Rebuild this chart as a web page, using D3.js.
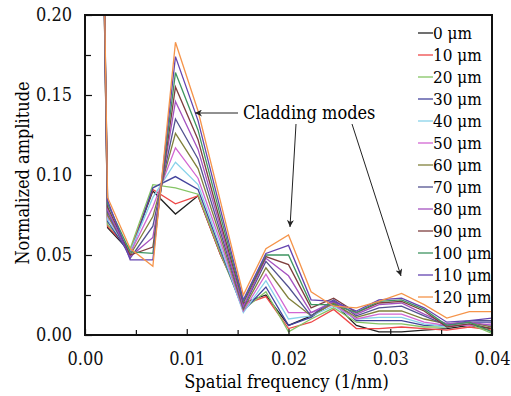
<!DOCTYPE html>
<html>
<head>
<meta charset="utf-8">
<script src="https://cdn.jsdelivr.net/npm/d3@7"></script>
<style>
  body { margin: 0; background: #fff; }
</style>
</head>
<body>
<div id="chart"></div>
<script>
// spatial frequency (1/nm)
const freq = [0, 0.00222, 0.00444, 0.00667, 0.00889, 0.01111, 0.01333, 0.01556, 0.01778, 0.02,
  0.02222, 0.02444, 0.02667, 0.02889, 0.03111, 0.03333, 0.03556, 0.03778, 0.04];

// normalized amplitude, one array per thickness
const um0 = [1.0, 0.067, 0.052, 0.090, 0.0756, 0.087, 0.050, 0.020, 0.025, 0.006, 0.012, 0.020, 0.006, 0.002, 0.002, 0.003, 0.004, 0.006, 0.004];
const um10 = [1.0, 0.068, 0.053, 0.091, 0.082, 0.087, 0.050, 0.019, 0.024, 0.004, 0.008, 0.016, 0.004, 0.004, 0.005, 0.004, 0.003, 0.005, 0.003];
const um20 = [1.0, 0.069, 0.054, 0.094, 0.092, 0.088, 0.051, 0.016, 0.027, 0.002, 0.010, 0.017, 0.008, 0.007, 0.007, 0.005, 0.005, 0.007, 0.001];
const um30 = [1.0, 0.071, 0.050, 0.092, 0.099, 0.091, 0.053, 0.015, 0.030, 0.006, 0.011, 0.021, 0.009, 0.009, 0.009, 0.006, 0.006, 0.008, 0.008];
const um40 = [1.0, 0.072, 0.052, 0.086, 0.108, 0.094, 0.055, 0.014, 0.034, 0.010, 0.012, 0.018, 0.010, 0.011, 0.011, 0.007, 0.005, 0.007, 0.006];
const um50 = [1.0, 0.074, 0.051, 0.080, 0.117, 0.098, 0.058, 0.015, 0.038, 0.014, 0.014, 0.019, 0.010, 0.013, 0.013, 0.008, 0.006, 0.006, 0.007];
const um60 = [1.0, 0.075, 0.050, 0.074, 0.126, 0.104, 0.061, 0.016, 0.042, 0.023, 0.012, 0.020, 0.011, 0.015, 0.015, 0.010, 0.007, 0.008, 0.005];
const um70 = [1.0, 0.077, 0.048, 0.068, 0.135, 0.110, 0.064, 0.017, 0.046, 0.030, 0.012, 0.022, 0.012, 0.017, 0.018, 0.012, 0.006, 0.009, 0.009];
const um80 = [1.0, 0.078, 0.049, 0.061, 0.146, 0.116, 0.067, 0.018, 0.048, 0.037, 0.014, 0.021, 0.013, 0.019, 0.020, 0.013, 0.007, 0.008, 0.006];
const um90 = [1.0, 0.080, 0.050, 0.055, 0.155, 0.122, 0.070, 0.020, 0.049, 0.044, 0.017, 0.023, 0.014, 0.020, 0.021, 0.015, 0.005, 0.007, 0.004];
const um100 = [1.0, 0.082, 0.052, 0.051, 0.164, 0.128, 0.074, 0.021, 0.050, 0.050, 0.019, 0.019, 0.014, 0.021, 0.022, 0.016, 0.006, 0.008, 0.002];
const um110 = [1.0, 0.084, 0.047, 0.047, 0.174, 0.134, 0.078, 0.022, 0.051, 0.056, 0.022, 0.021, 0.015, 0.022, 0.023, 0.017, 0.008, 0.009, 0.0106];
const um120 = [1.0, 0.086, 0.054, 0.043, 0.183, 0.140, 0.083, 0.025, 0.054, 0.0625, 0.027, 0.018, 0.017, 0.021, 0.026, 0.019, 0.0106, 0.0146, 0.0146];

const seriesNames = ['0 μm', '10 μm', '20 μm', '30 μm', '40 μm', '50 μm', '60 μm', '70 μm', '80 μm', '90 μm', '100 μm', '110 μm', '120 μm'];
const seriesValues = [um0, um10, um20, um30, um40, um50, um60, um70, um80, um90, um100, um110, um120];
const colors = ['#222222', '#ee4848', '#84c464', '#43439c', '#88d2ea', '#d266d2', '#80803c', '#525290',
  '#a452c0', '#7e3e3e', '#3e9460', '#6444b0', '#f5944a'];

const xTicks = [0, 0.01, 0.02, 0.03, 0.04];
const yTicks = [0, 0.05, 0.10, 0.15, 0.20];

const W = 511, H = 396;
const margin = { top: 15, right: 19, bottom: 61, left: 85 };
const width = W - margin.left - margin.right;
const height = H - margin.top - margin.bottom;
const serif = "'DejaVu Serif Condensed', 'DejaVu Serif', serif";
const fs = '18px';

const svg = d3.select('#chart').append('svg')
  .attr('width', W)
  .attr('height', H)
  .style('font-family', serif);

const g = svg.append('g')
  .attr('transform', `translate(${margin.left}, ${margin.top})`);

const x = d3.scaleLinear().domain([0, 0.04]).range([0, width]);
const y = d3.scaleLinear().domain([0, 0.20]).range([height, 0]);

g.append('clipPath').attr('id', 'plotclip')
  .append('rect').attr('width', width).attr('height', height);

// data lines
const line = d3.line()
  .x((d, i) => x(freq[i]))
  .y(d => y(d));

g.append('g').attr('clip-path', 'url(#plotclip)')
  .selectAll('path')
  .data(seriesValues)
  .join('path')
  .attr('d', d => line(d))
  .attr('fill', 'none')
  .attr('stroke', (d, i) => colors[i])
  .attr('stroke-width', 1.3)
  .attr('stroke-linejoin', 'miter');

// axes, ticks pointing inward
const xAxis = g.append('g')
  .attr('transform', `translate(0, ${height})`)
  .call(d3.axisBottom(x).tickValues(xTicks).tickFormat(d3.format('.2f'))
    .tickSizeInner(-6).tickSizeOuter(0).tickPadding(17));
const xMinor = g.append('g')
  .attr('transform', `translate(0, ${height})`)
  .call(d3.axisBottom(x).tickValues([0.005, 0.015, 0.025, 0.035]).tickFormat('')
    .tickSizeInner(-5).tickSizeOuter(0));
const yAxis = g.append('g')
  .call(d3.axisLeft(y).tickValues(yTicks).tickFormat(d3.format('.2f'))
    .tickSizeInner(-7).tickSizeOuter(0).tickPadding(13));
const yMinor = g.append('g')
  .call(d3.axisLeft(y).tickValues([0.025, 0.075, 0.125, 0.175]).tickFormat('')
    .tickSizeInner(-6).tickSizeOuter(0));

[xAxis, xMinor, yAxis, yMinor].forEach(a => {
  a.attr('font-family', null);
  a.select('.domain').remove();
  a.selectAll('line').attr('stroke', '#111').attr('stroke-width', 1.2);
  a.selectAll('text').attr('font-size', fs)
    .style('font-family', serif).attr('fill', '#111');
});

// frame
g.append('rect')
  .attr('width', width).attr('height', height)
  .attr('fill', 'none').attr('stroke', '#111').attr('stroke-width', 2);

// axis titles
g.append('text')
  .attr('x', width / 2 - 2).attr('y', height + 53)
  .attr('text-anchor', 'middle')
  .attr('font-size', fs)
  .text('Spatial frequency (1/nm)');

svg.append('text')
  .attr('transform', `translate(29, ${margin.top + height / 2 - 2}) rotate(-90)`)
  .attr('text-anchor', 'middle')
  .attr('font-size', fs)
  .text('Normalized amplitude');

// legend
const legend = g.append('g').attr('transform', `translate(${width - 74}, 18)`);
seriesNames.forEach((name, i) => {
  const row = legend.append('g').attr('transform', `translate(0, ${i * 22})`);
  row.append('line')
    .attr('x1', 0).attr('x2', 15)
    .attr('stroke', colors[i]).attr('stroke-width', 1.3);
  row.append('text')
    .attr('x', 15).attr('dy', '0.35em')
    .attr('font-size', '17px')
    .text(name);
});

// annotation
svg.append('defs').append('marker')
  .attr('id', 'arrow').attr('viewBox', '0 0 10 10')
  .attr('refX', 10).attr('refY', 5)
  .attr('markerWidth', 9).attr('markerHeight', 7)
  .attr('markerUnits', 'userSpaceOnUse')
  .attr('orient', 'auto')
  .append('path').attr('d', 'M0,0 L10,5 L0,10 L3,5 Z').attr('fill', '#222');

svg.append('text')
  .attr('x', 243).attr('y', 119)
  .attr('font-size', fs)
  .text('Cladding modes');

const arrows = [
  [238, 113, 195, 113],
  [296, 124, 290, 227],
  [352, 124, 401, 276]
];
svg.append('g').selectAll('line')
  .data(arrows)
  .join('line')
  .attr('x1', d => d[0]).attr('y1', d => d[1])
  .attr('x2', d => d[2]).attr('y2', d => d[3])
  .attr('stroke', '#222').attr('stroke-width', 1)
  .attr('marker-end', 'url(#arrow)');
</script>
</body>
</html>
